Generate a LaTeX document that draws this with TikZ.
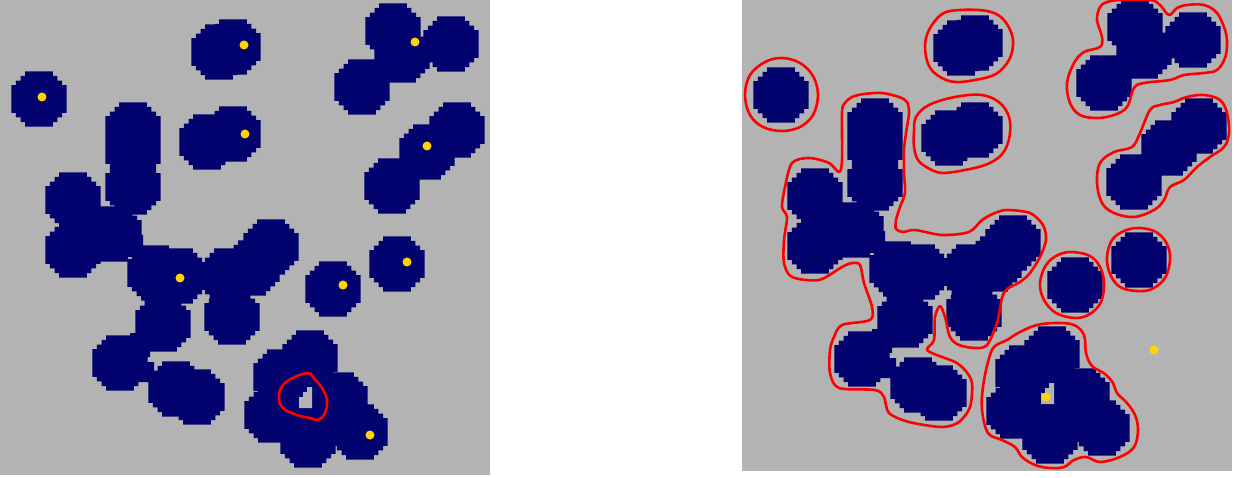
\documentclass[tikz,border=0pt]{standalone}
\begin{document}
\definecolor{bg}{RGB}{179,179,179}
\definecolor{navyc}{RGB}{3,3,112}
\definecolor{dotc}{RGB}{255,213,0}
\definecolor{redc}{RGB}{255,0,0}
% pixelated disc (pixel 4.62), drawn relative to its centre
\newcommand\pixdisc{++(-13.86,-27.72) -- ++(27.72,0) -- ++(0,4.62) -- ++(4.62,0) -- ++(0,4.62) -- ++(4.62,0) -- ++(0,4.62) -- ++(4.62,0)
  -- ++(0,27.72) -- ++(-4.62,0) -- ++(0,4.62) -- ++(-4.62,0) -- ++(0,4.62) -- ++(-4.62,0) -- ++(0,4.62)
  -- ++(-27.72,0) -- ++(0,-4.62) -- ++(-4.62,0) -- ++(0,-4.62) -- ++(-4.62,0) -- ++(0,-4.62) -- ++(-4.62,0)
  -- ++(0,-27.72) -- ++(4.62,0) -- ++(0,-4.62) -- ++(4.62,0) -- ++(0,-4.62) -- ++(4.62,0) -- cycle}
\newcommand\blobdiscs{%
  \foreach \px/\py in {39/99, 219/52, 233/47, 207/142, 233/134, 393/31, 402/55, 451/44, 362/87,
    457/130, 427/152, 392/186, 397/264, 333/289,
    73/200, 73/250, 114/234, 155/273, 179/276, 228/276, 252/268, 271/247, 163/324, 232/317,
    120/363, 176/389, 197/397,
    310/358, 281/377, 272/415, 308/440, 360/432, 340/400, 300/398,
    133/130, 133/150, 133/187}{(\px,\py) \pixdisc}
  (127,235) -- (143,235) -- (143,255) -- (127,255) -- cycle
  (130,333) -- (150,333) -- (150,357) -- (130,357) -- cycle
  (138,362) -- (154,362) -- (154,382) -- (138,382) -- cycle}
\newcommand\holepath{(299,408) -- (312,408) -- (312,387) -- (307,387) -- (307,392) -- (303,392) -- (303,397) -- (299,397) -- cycle}
\begin{tikzpicture}[x=1pt,y=-1pt,
  panel/.style={fill=bg},
  blob/.style={fill=navyc},
  hole/.style={fill=bg},
  seed/.style={fill=dotc},
  contour/.style={draw=redc,line width=2.6pt,line join=round},
  ]
\useasboundingbox (0,0) rectangle (1236,478);
\fill[white] (0,0) rectangle (1236,478);
% left panel
\begin{scope}
  \clip (0,0) rectangle (490,475);
  \fill[panel] (0,0) rectangle (490,475);
  \fill[blob] \blobdiscs;
  \fill[hole] \holepath;
\end{scope}
\foreach \px/\py in {42/97, 244/45, 245/134, 415/42, 427/146, 407/262, 343/285, 180/278, 370/435}
  {\fill[seed] (\px,\py) circle[radius=4.5pt];}
\draw[contour] plot[smooth cycle, tension=0.7] coordinates {(308,373) (313,377) (322,388) (327,400) (325,413) (318,420) (310,418) (297,415) (283,408) (279,397) (283,385) (295,377)};
% right panel
\begin{scope}[shift={(742,-4)}]
  \clip (0,4) rectangle (490,475);
  \fill[panel] (0,0) rectangle (490,475);
  \fill[blob] \blobdiscs;
  \fill[hole] \holepath;
\end{scope}
\foreach \px/\py in {1046/397, 1154/350}
  {\fill[seed] (\px,\py) circle[radius=4.5pt];}
\begin{scope}
\clip (742,0) rectangle (1232,471);
\draw[contour] plot[smooth cycle, tension=0.6] coordinates {(745,95) (750,75) (765,62) (782,58) (800,63) (813,76) (818,95) (813,115) (800,127) (782,131) (763,127) (750,115)};
\draw[contour] plot[smooth cycle, tension=0.6] coordinates {(925,47) (929,30) (942,14) (960,10) (987,11) (1002,18) (1011,32) (1013,45) (1009,60) (996,74) (975,80) (955,82) (940,77) (929,66)};
\draw[contour] plot[smooth cycle, tension=0.6] coordinates {(914,132) (916,117) (929,105) (955,97) (982,95) (1000,103) (1009,117) (1010,133) (1006,148) (998,158) (985,165) (965,170) (942,173) (928,168) (918,160) (914,147)};
\draw[contour] plot[smooth cycle, tension=0.5] coordinates {(842,112) (845,103) (852,97) (864,94) (882,93) (899,97) (907,102) (909,113) (906,133) (904,150) (904,173) (905,193) (900,207) (896,220) (896,229) (903,232) (915,230) (942,235) (969,232) (982,220) (995,213) (1007,210) (1030,213) (1043,225) (1046,240) (1040,257) (1030,273) (1020,282) (1007,289) (1002,298) (997,323) (987,345) (975,348) (959,345) (950,337) (945,317) (940,306) (935,317) (934,340) (927,350) (942,357) (955,362) (965,370) (972,383) (970,407) (959,422) (942,427) (909,422) (889,413) (884,397) (875,390) (839,388) (830,373) (830,350) (834,337) (842,325) (870,320) (872,307) (864,283) (860,265) (852,263) (842,267) (819,280) (792,277) (784,263) (784,240) (787,217) (782,207) (785,187) (792,163) (809,158) (829,163) (839,172) (842,160)};
\draw[contour] plot[smooth cycle, tension=0.6] coordinates {(1097,20) (1100,7) (1107,2) (1120,0) (1150,0) (1160,5) (1169,15) (1177,8) (1187,5) (1204,5) (1217,13) (1225,30) (1227,43) (1225,58) (1217,70) (1204,73) (1184,75) (1170,80) (1144,83) (1134,88) (1127,107) (1114,115) (1097,118) (1080,115) (1070,103) (1067,83) (1074,63) (1084,52) (1100,47) (1102,37)};
\draw[contour] plot[smooth cycle, tension=0.6] coordinates {(1100,163) (1114,152) (1132,147) (1140,133) (1150,110) (1160,105) (1174,102) (1187,97) (1204,95) (1220,100) (1227,113) (1229,133) (1224,147) (1210,157) (1197,167) (1184,180) (1170,187) (1164,200) (1154,210) (1134,217) (1114,213) (1102,203) (1097,183)};
\draw[contour] plot[smooth cycle, tension=0.6] coordinates {(1040,283) (1046,265) (1058,255) (1072,252) (1090,256) (1100,267) (1104,283) (1101,302) (1090,314) (1075,318) (1056,313) (1044,300)};
\draw[contour] plot[smooth cycle, tension=0.6] coordinates {(1107,257) (1112,240) (1124,231) (1139,228) (1156,232) (1167,244) (1170,260) (1165,278) (1152,289) (1137,291) (1120,287) (1110,274)};
\draw[contour] plot[smooth cycle, tension=0.6] coordinates {(994,347) (1007,340) (1020,332) (1037,325) (1057,323) (1074,325) (1084,335) (1086,353) (1092,366) (1105,374) (1113,383) (1117,393) (1127,403) (1135,415) (1138,430) (1134,447) (1120,457) (1100,462) (1086,457) (1074,460) (1064,467) (1050,468) (1035,465) (1022,457) (1015,447) (1002,440) (988,433) (982,410) (983,387) (988,362)};
\end{scope}
\end{tikzpicture}
\end{document}
